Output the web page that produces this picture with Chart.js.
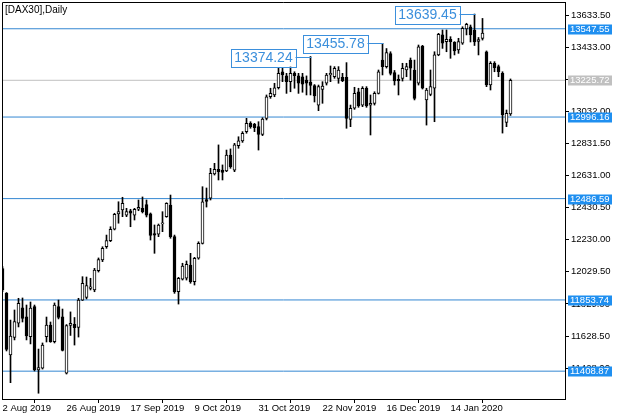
<!DOCTYPE html>
<html>
<head>
<meta charset="utf-8">
<script src="https://cdn.jsdelivr.net/npm/chart.js@4.4.1/dist/chart.umd.min.js"></script>
<style>
  html, body { margin: 0; padding: 0; background: #ffffff; }
  #wrap { width: 623px; height: 420px; position: relative; }
  canvas { display: block; }
</style>
</head>
<body>
<div id="wrap"><canvas id="c" width="623" height="420"></canvas></div>
<script>
// ---- Data (DAX30 daily, 2 Aug 2019 .. 4 Feb 2020) ----
const opens = [
  12050,11895,11510,11620,11708,11805,11749,11624,11812,11416,
  11427,11624,11697,11593,11812,11749,11396,11694,11702,11682,
  11853,11869,11926,11916,12036,12103,12186,12224,12295,12391,
  12416,12384,12411,12384,12420,12426,12450,12391,12269,12264,
  12328,12374,12447,12249,11905,11983,11989,12072,11968,12114,
  12207,12481,12489,12641,12670,12665,12659,12759,12665,12817,
  12847,12905,12957,12951,12936,12888,12988,13123,13134,13179,
  13279,13254,13217,13269,13254,13248,13227,13215,13193,13071,
  13169,13207,13259,13248,13238,13244,13244,12982,13051,13154,
  13071,13176,13070,13082,13144,13352,13311,13393,13274,13232,
  13238,13290,13352,13290,13207,13440,13103,13138,13176,13384,
  13509,13467,13482,13463,13415,13457,13546,13559,13540,13468,
  13487,13404,13196,13332,13311,13269,12963,13015
];
const highs = [
  12062,11900,11728,11791,11864,11866,11822,11841,11822,11547,
  11585,11747,11716,11835,11853,11797,11700,11779,11744,11864,
  11999,11997,11989,12051,12116,12186,12259,12311,12395,12467,
  12495,12426,12420,12426,12478,12497,12478,12397,12322,12328,
  12405,12461,12509,12259,11995,12083,12097,12145,12120,12217,
  12561,12553,12676,12707,12822,12697,12790,12797,12832,12873,
  12905,12988,12967,12957,12967,12992,13134,13176,13207,13301,
  13301,13269,13311,13279,13269,13269,13253,13374.24,13199,13196,
  13217,13269,13315,13311,13311,13269,13336,13071,13182,13176,
  13186,13186,13134,13154,13290,13455.78,13424,13404,13287,13259,
  13332,13332,13365,13352,13446,13444,13176,13290,13404,13519,
  13540,13540,13498,13467,13488,13560,13582,13571,13639.45,13493,
  13612,13409,13342,13342,13321,13279,13040,13234
];
const lows = [
  11905,11535,11337,11604,11685,11716,11604,11579,11410,11271,
  11422,11591,11589,11585,11735,11535,11391,11632,11572,11622,
  11850,11860,11916,11905,12028,12093,12176,12218,12291,12333,
  12374,12374,12311,12353,12411,12397,12372,12228,12145,12249,
  12280,12370,12239,11895,11828,11978,11978,11958,11947,12108,
  12203,12434,12478,12634,12603,12603,12655,12676,12655,12801,
  12838,12895,12926,12905,12790,12880,12978,13113,13123,13171,
  13217,13144,13154,13176,13144,13151,13134,13134,13090,13036,
  13082,13196,13217,13238,13207,13217,12926,12936,13044,13057,
  13061,13057,12884,13071,13140,13259,13302,13259,13196,13134,
  13221,13248,13227,13103,13196,13171,12946,13129,12967,13379,
  13425,13404,13363,13384,13394,13450,13509,13465,13443,13384,
  13477,13186,13165,13279,13248,12896,12936,13006
];
const closes = [
  11916,11545,11628,11718,11833,11739,11629,11803,11416,11432,
  11572,11697,11593,11822,11745,11539,11694,11707,11680,11853,
  11958,11944,11936,12041,12106,12176,12224,12295,12389,12405,
  12457,12405,12395,12420,12432,12405,12384,12256,12258,12322,
  12336,12457,12249,11905,11989,12066,12076,11968,12114,12207,
  12467,12469,12645,12670,12655,12650,12759,12686,12822,12847,
  12895,12957,12936,12930,12888,12984,13123,13144,13179,13269,
  13259,13217,13269,13254,13207,13201,13207,13193,13128,13186,
  13190,13259,13269,13301,13290,13223,12988,13051,13144,13065,
  13176,13065,13082,13144,13279,13311,13399,13269,13221,13223,
  13301,13311,13301,13113,13434,13176,13165,13186,13384,13513,
  13457,13482,13467,13409,13467,13550,13575,13509,13465,13480,
  13521,13196,13332,13304,13279,13009,13020,13225.72
];
// x-axis tick labels and the bar index each one sits on
const dateLabels = ['2 Aug 2019','26 Aug 2019','17 Sep 2019','9 Oct 2019','31 Oct 2019','22 Nov 2019','16 Dec 2019','14 Jan 2020'];
const dateTickIdx = [0,16,32,48,64,80,96,112];
// y-axis tick values
const priceTicks = [13633.5,13433.0,13232.5,13032.0,12831.5,12631.0,12430.5,12230.0,12029.5,11829.0,11628.5,11428.0];
// horizontal lines (levels) and the current price line
const levelValues = [13547.55,12996.16,12486.59,11853.74,11408.87];
const currentPrice = 13225.72;
// bars whose highs carry a price label
const peakIdx = [77,95,118];
const symbolTitle = '[DAX30],Daily';

// ---- styles ----
const FONT = '"Liberation Sans", Arial, sans-serif';
const BLUE_LINE = '#3487d2';
const BLUE_BOX = '#1f8ff0';
const GREY = '#c0c0c0';
const ANN_BLUE = '#3b8fdc';

const xMin = -0.125, xMax = 140.625;
const yMin = 11235.0, yMax = 13714.7;

const bodyData = opens.map((o, i) => ({ x: i, y: [o, closes[i]] }));
const wickData = lows.map((l, i) => ({ x: i, y: [l, highs[i]] }));
const bodyColors = opens.map((o, i) => closes[i] >= o ? '#ffffff' : '#000000');

const lineDatasets = levelValues.map(v => ({
  type: 'line', label: 'L' + v,
  data: [{ x: xMin, y: v }, { x: xMax, y: v }],
  borderColor: BLUE_LINE, borderWidth: 1, pointRadius: 0, fill: false, order: 3
}));
lineDatasets.push({
  type: 'line', label: 'price',
  data: [{ x: xMin, y: currentPrice }, { x: xMax, y: currentPrice }],
  borderColor: GREY, borderWidth: 1, pointRadius: 0, fill: false, order: 3
});

const overlay = {
  id: 'overlay',
  afterDatasetsDraw(chart) {
    const { ctx, chartArea: a, scales: { x, y } } = chart;
    ctx.save();
    // peak price labels with leader lines
    ctx.font = '14px ' + FONT;
    ctx.textBaseline = 'middle';
    ctx.textAlign = 'center';
    peakIdx.forEach(i => {
      const px = Math.round(x.getPixelForValue(i)) + 0.5;
      const py = Math.round(y.getPixelForValue(highs[i])) + 0.5;
      const w = 65, h = 18;
      const right = px - 16;
      const left = right - w;
      ctx.fillStyle = '#ffffff';
      ctx.fillRect(left, py - h / 2, w, h);
      ctx.strokeStyle = ANN_BLUE;
      ctx.lineWidth = 1;
      ctx.strokeRect(Math.round(left) + 0.5, Math.round(py - h / 2) + 0.5, w, h);
      ctx.beginPath();
      ctx.moveTo(right, py);
      ctx.lineTo(px, py);
      ctx.stroke();
      ctx.fillStyle = ANN_BLUE;
      ctx.fillText(highs[i].toFixed(2), left + w / 2 + 0.5, py + 1);
    });
    ctx.restore();
  },
  afterDraw(chart) {
    const { ctx, chartArea: a, scales: { y } } = chart;
    ctx.save();
    // frame
    ctx.strokeStyle = '#000';
    ctx.lineWidth = 1;
    ctx.beginPath();
    ctx.moveTo(a.left + 0.5, a.bottom);
    ctx.lineTo(a.left + 0.5, a.top + 0.5);
    ctx.lineTo(a.right, a.top + 0.5);
    ctx.stroke();
    // title
    ctx.fillStyle = '#000';
    ctx.font = '10px ' + FONT;
    ctx.textBaseline = 'top';
    ctx.textAlign = 'left';
    ctx.fillText(symbolTitle, a.left + 3, a.top + 3);
    // level price tags on the axis
    ctx.font = '9.5px ' + FONT;
    ctx.textBaseline = 'middle';
    const tag = (v, bg) => {
      const py = y.getPixelForValue(v);
      ctx.fillStyle = bg;
      ctx.fillRect(a.right + 3, Math.round(py) - 4.5, 44, 10);
      ctx.fillStyle = '#fff';
      ctx.fillText(v.toFixed(2), a.right + 5, Math.round(py) + 0.5);
    };
    tag(currentPrice, GREY);
    levelValues.forEach(v => tag(v, BLUE_BOX));
    ctx.restore();
  }
};

new Chart(document.getElementById('c'), {
  type: 'bar',
  data: {
    datasets: [
      { label: 'body', data: bodyData, backgroundColor: bodyColors, borderColor: '#000',
        borderWidth: 1, borderSkipped: false, barThickness: 3, grouped: false, minBarLength: 1, order: 1 },
      { label: 'wick', data: wickData, backgroundColor: '#000', borderWidth: 0,
        barThickness: 1, grouped: false, order: 2 },
      ...lineDatasets
    ]
  },
  options: {
    responsive: false,
    animation: false,
    devicePixelRatio: 1,
    layout: { padding: { left: 2, top: 2, right: 0, bottom: 0 } },
    plugins: { legend: { display: false }, tooltip: { enabled: false }, title: { display: false } },
    scales: {
      x: {
        type: 'linear', min: xMin, max: xMax, offset: false,
        grid: { drawOnChartArea: false, drawTicks: true, tickLength: 4, tickColor: '#000' },
        border: { display: true, color: '#000' },
        ticks: {
          autoSkip: false, maxRotation: 0, align: 'start', padding: 0,
          color: '#000', font: { family: FONT, size: 9.5 },
          callback: (v) => { const k = dateTickIdx.indexOf(v); return k >= 0 ? dateLabels[k] : ''; }
        },
        afterBuildTicks: (s) => { s.ticks = dateTickIdx.map(v => ({ value: v })); },
        afterFit: (s) => { s.height = 21; s.paddingLeft = 0; s.paddingRight = 0; }
      },
      y: {
        type: 'linear', position: 'right', min: yMin, max: yMax,
        grid: { drawOnChartArea: false, drawTicks: true, tickLength: 4, tickColor: '#000' },
        border: { display: true, color: '#000' },
        ticks: {
          autoSkip: false, padding: 2, color: '#000', font: { family: FONT, size: 9.5 },
          callback: (v) => Number(v).toFixed(2)
        },
        afterBuildTicks: (s) => { s.ticks = priceTicks.map(v => ({ value: v })); },
        afterFit: (s) => { s.width = 58; s.paddingTop = 0; s.paddingBottom = 0; }
      }
    }
  },
  plugins: [overlay]
});
</script>
</body>
</html>
